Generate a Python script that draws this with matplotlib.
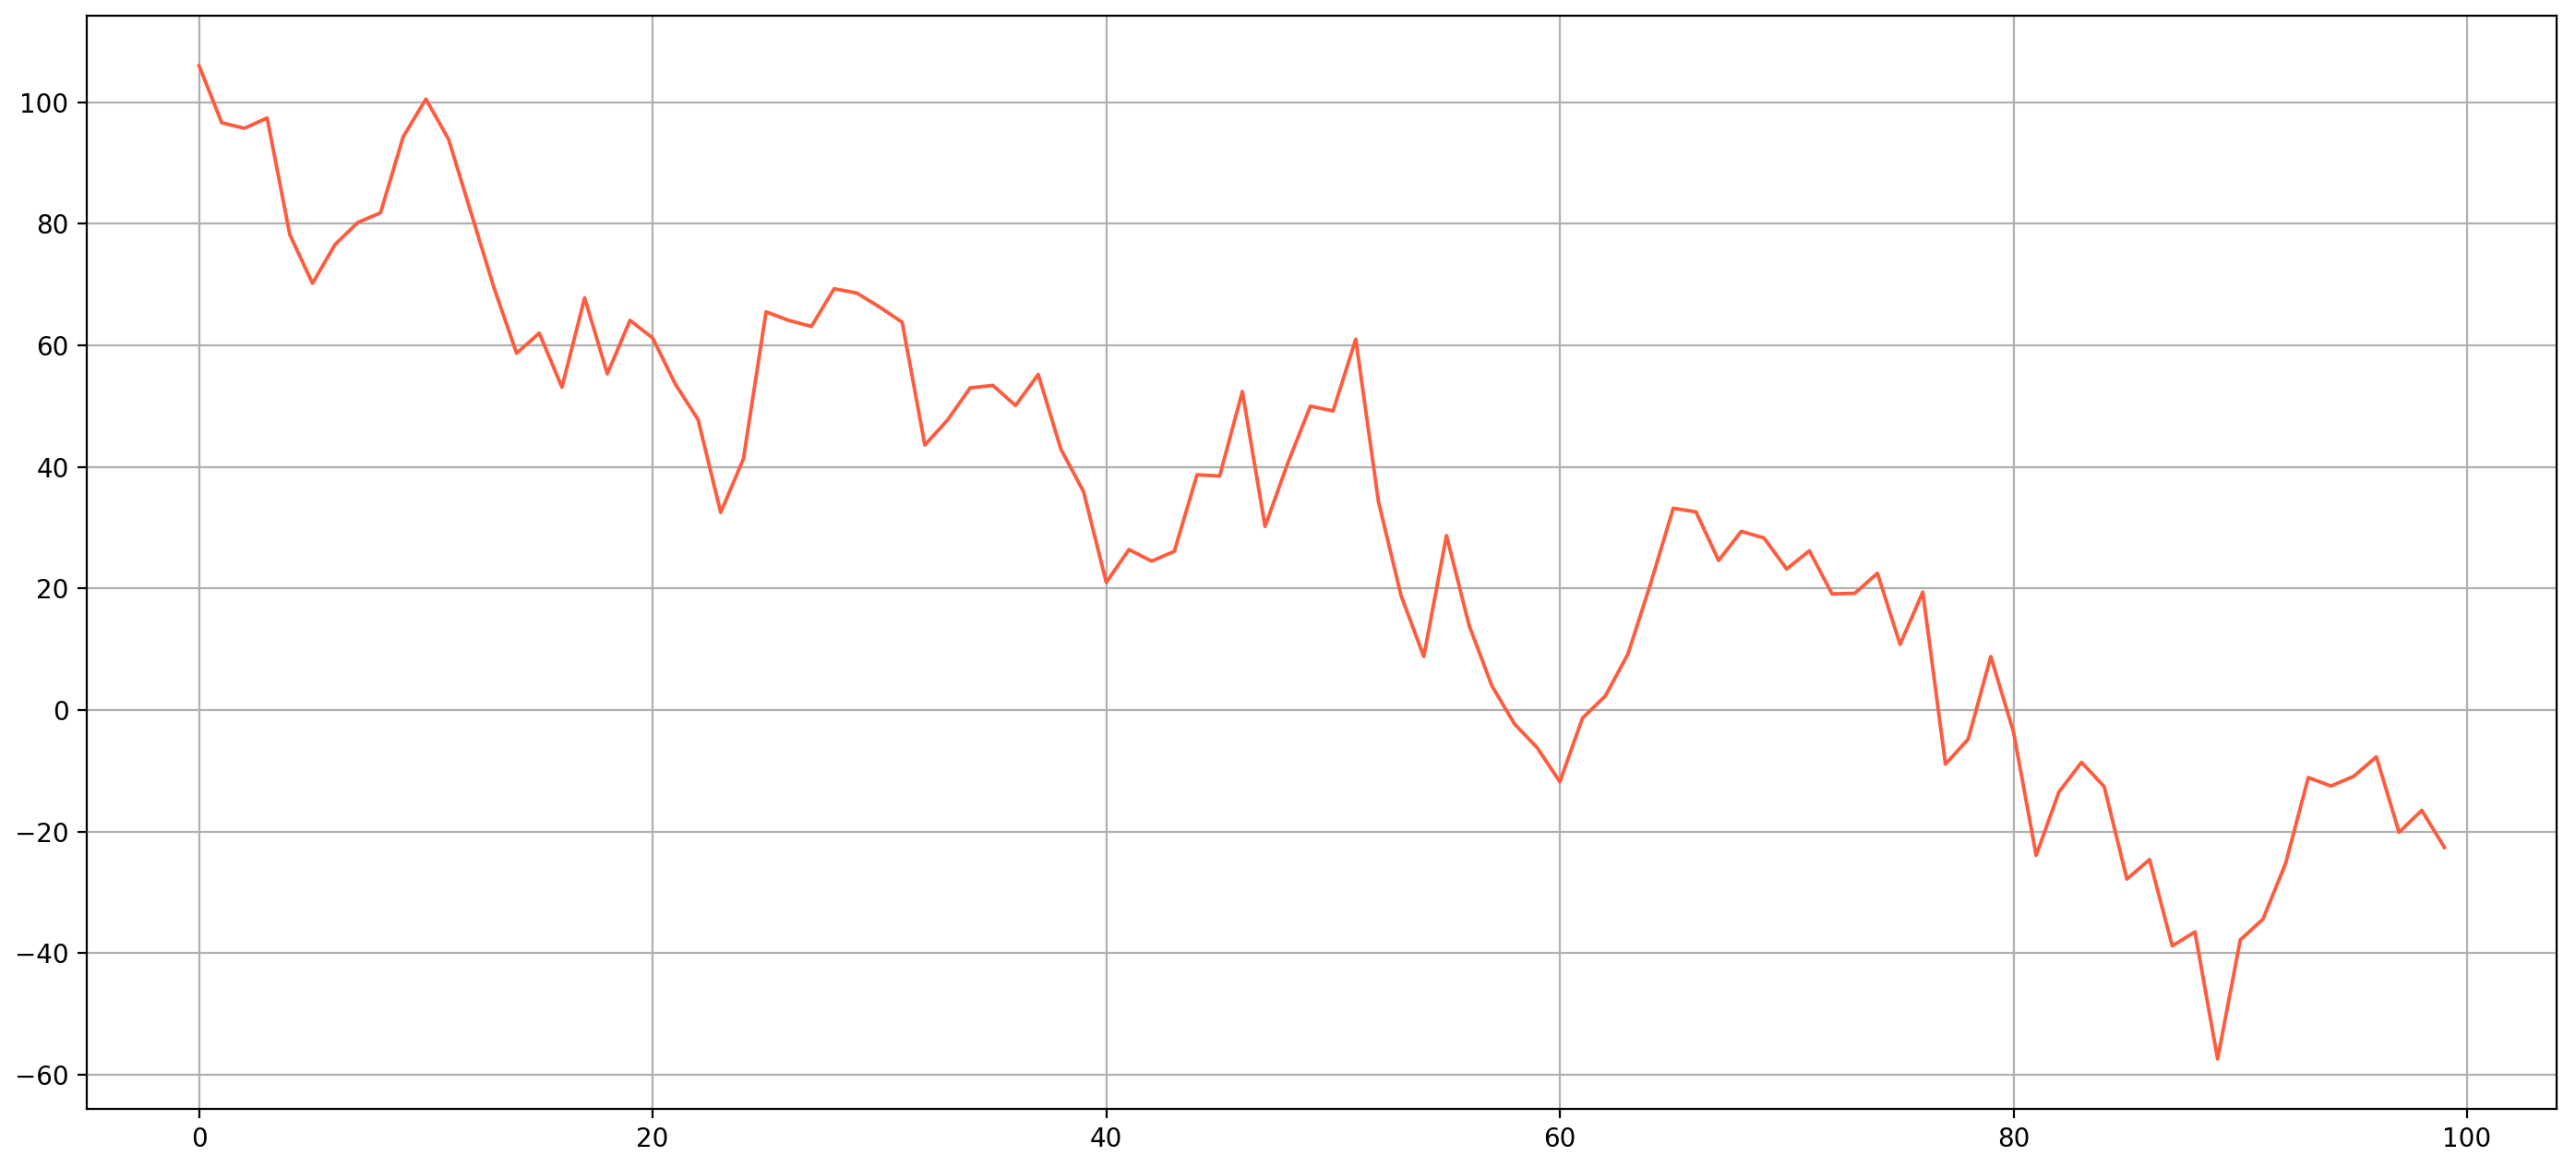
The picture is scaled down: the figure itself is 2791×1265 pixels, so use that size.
import numpy as np
import matplotlib
matplotlib.use('Agg')
import matplotlib.pyplot as plt

values = [
    106.0, 96.6, 95.7, 97.4, 78.2, 70.2, 76.6, 80.2, 81.8, 94.3,
    100.5, 93.9, 81.7, 69.5, 58.7, 62.0, 53.1, 67.8, 55.3, 64.1,
    61.2, 53.6, 47.8, 32.5, 41.3, 65.5, 64.1, 63.1, 69.3, 68.6,
    66.3, 63.8, 43.6, 47.7, 53.0, 53.4, 50.1, 55.2, 42.9, 35.9,
    21.0, 26.4, 24.5, 26.1, 38.7, 38.5, 52.4, 30.2, 40.6, 50.0,
    49.2, 61.0, 34.3, 18.8, 8.8, 28.7, 13.9, 4.0, -2.3, -6.2,
    -11.8, -1.3, 2.3, 9.2, 20.8, 33.2, 32.6, 24.6, 29.4, 28.3,
    23.2, 26.2, 19.1, 19.2, 22.5, 10.8, 19.4, -8.9, -4.8, 8.8,
    -3.6, -23.9, -13.5, -8.6, -12.6, -27.8, -24.6, -38.8, -36.5, -57.4,
    -37.8, -34.4, -25.2, -11.1, -12.5, -10.9, -7.7, -20.1, -16.5, -22.6,
]
x = np.arange(len(values))

fig = plt.figure(figsize=(13.955, 6.325), dpi=200)
ax = fig.add_subplot(111)
fig.subplots_adjust(left=0.0337, right=0.9925, top=0.9863, bottom=0.0508)

ax.plot(x, values, color='#FF5C3F', linewidth=1.4)
ax.grid(True)

fig.savefig('out.png', dpi=200)
